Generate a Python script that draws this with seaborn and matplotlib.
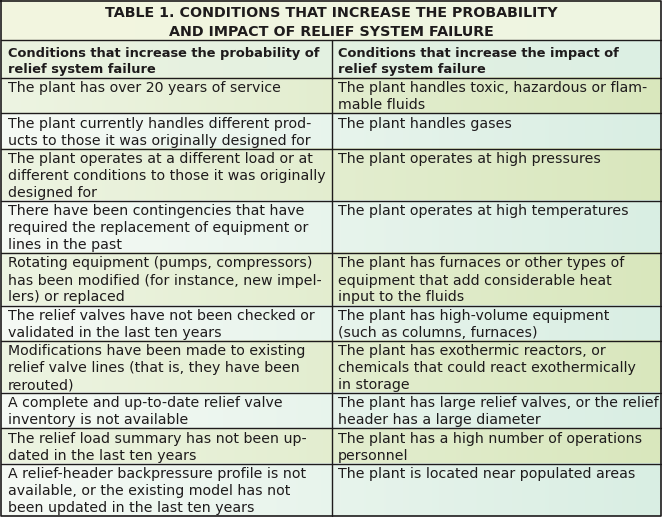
import matplotlib
matplotlib.use("Agg")
import matplotlib.pyplot as plt
import numpy as np
import seaborn as sns

title_lines = ["TABLE 1. CONDITIONS THAT INCREASE THE PROBABILITY",
               "AND IMPACT OF RELIEF SYSTEM FAILURE"]

header_left = "Conditions that increase the probability of\nrelief system failure"
header_right = "Conditions that increase the impact of\nrelief system failure"

probability_conditions = [
    "The plant has over 20 years of service",
    "The plant currently handles different prod-\nucts to those it was originally designed for",
    "The plant operates at a different load or at\ndifferent conditions to those it was originally\ndesigned for",
    "There have been contingencies that have\nrequired the replacement of equipment or\nlines in the past",
    "Rotating equipment (pumps, compressors)\nhas been modified (for instance, new impel-\nlers) or replaced",
    "The relief valves have not been checked or\nvalidated in the last ten years",
    "Modifications have been made to existing\nrelief valve lines (that is, they have been\nrerouted)",
    "A complete and up-to-date relief valve\ninventory is not available",
    "The relief load summary has not been up-\ndated in the last ten years",
    "A relief-header backpressure profile is not\navailable, or the existing model has not\nbeen updated in the last ten years",
]

impact_conditions = [
    "The plant handles toxic, hazardous or flam-\nmable fluids",
    "The plant handles gases",
    "The plant operates at high pressures",
    "The plant operates at high temperatures",
    "The plant has furnaces or other types of\nequipment that add considerable heat\ninput to the fluids",
    "The plant has high-volume equipment\n(such as columns, furnaces)",
    "The plant has exothermic reactors, or\nchemicals that could react exothermically\nin storage",
    "The plant has large relief valves, or the relief\nheader has a large diameter",
    "The plant has a high number of operations\npersonnel",
    "The plant is located near populated areas",
]

sns.set_style("white")
plt.rcParams["font.family"] = ["DejaVu Sans"]

W, H = 662, 517
ink = "#1e1b1c"
line_h = 17.0

fig = plt.figure(figsize=(W / 100, H / 100), dpi=100)
ax = fig.add_axes([0, 0, 1, 1])
ax.set_xlim(0, W)
ax.set_ylim(H, 0)
ax.axis("off")

x_left, x_mid, x_right = 1, 331.5, 661


def band(y0, y1, c0, c1):
    # horizontal gradient for one row of the table
    pal = np.array(sns.blend_palette([c0, c1], n_colors=128))[None, :, :3]
    ax.imshow(pal, extent=(x_left, x_right, y1, y0), aspect="auto",
              interpolation="bilinear", zorder=0)


# title block
title_bottom = 40
band(0, title_bottom, "#f3f6df", "#eef5e2")
for i, t in enumerate(title_lines):
    ax.text(W / 2, 17.3 + i * 18.4, t, ha="center", va="baseline",
            fontsize=10.3, fontweight="heavy", color=ink)

# column headers
header_bottom = 78
band(title_bottom, header_bottom, "#ebf3df", "#dcefe4")
for x, t in [(x_left + 7, header_left), (x_mid + 6, header_right)]:
    for i, ln in enumerate(t.split("\n")):
        ax.text(x, 56.7 + i * 16.0, ln, ha="left", va="baseline",
                fontsize=9.4, fontweight="bold", color=ink)

# body rows
odd = ("#edf4e2", "#d9e7bd")
even = ("#f6faf5", "#d9eee3")
y = header_bottom
bounds = [title_bottom, header_bottom]
for r, (lt, rt) in enumerate(zip(probability_conditions, impact_conditions)):
    n = max(lt.count("\n"), rt.count("\n")) + 1
    h = n * line_h + 1.3
    c0, c1 = odd if r % 2 == 0 else even
    band(y, y + h, c0, c1)
    for x, t in [(x_left + 7, lt), (x_mid + 6, rt)]:
        for i, ln in enumerate(t.split("\n")):
            ax.text(x, y + 14.3 + i * line_h, ln, ha="left", va="baseline",
                    fontsize=10.15, color=ink)
    y += h
    bounds.append(y)

# rules
lw = 1.0
for b in bounds[:-1]:
    ax.plot([x_left, x_right], [b, b], color=ink, lw=lw, zorder=3)
ax.plot([x_mid, x_mid], [title_bottom, bounds[-1]], color=ink, lw=lw, zorder=3)
ax.plot([x_left, x_right, x_right, x_left, x_left],
        [0.6, 0.6, bounds[-1], bounds[-1], 0.6], color=ink, lw=lw * 1.2, zorder=3)

fig.savefig("out.png", dpi=100)
